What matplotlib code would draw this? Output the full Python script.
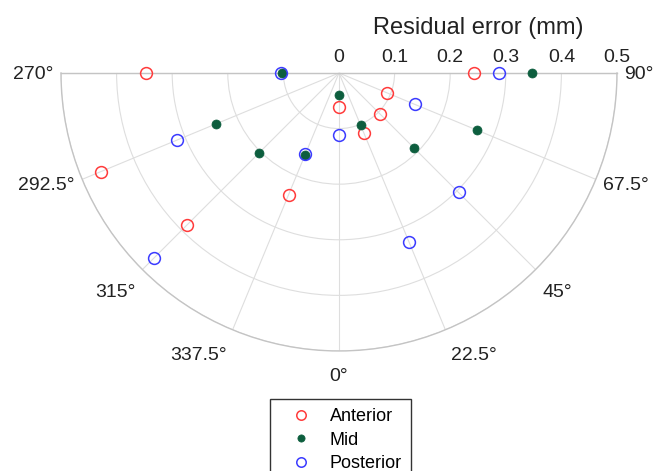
import numpy as np
import matplotlib.pyplot as plt

plt.rcParams['font.family'] = ['Liberation Sans', 'DejaVu Sans']

# angles in degrees (as labelled on the chart)
angles = [270, 292.5, 315, 337.5, 0, 22.5, 45, 67.5, 90]

# residual error (mm) per angle
anterior = [0.347, 0.464, 0.387, 0.237, 0.061, 0.117, 0.104, 0.093, 0.242]
mid = [0.103, 0.239, 0.204, 0.160, 0.039, 0.102, 0.190, 0.268, 0.348]
posterior = [0.105, 0.315, 0.471, 0.158, 0.112, 0.329, 0.304, 0.148, 0.287]

r_ticks = [0, 0.1, 0.2, 0.3, 0.4, 0.5]
theta_ticks = [270, 292.5, 315, 337.5, 0, 22.5, 45, 67.5, 90]


def to_rad(a):
    a = np.asarray(a, dtype=float)
    a = np.where(a > 180, a - 360, a)
    return np.deg2rad(a)


fig = plt.figure(figsize=(6.55, 4.71), dpi=100)
# the half-polar wedge sits in a square box; size it so the half disc lands where wanted
ax = fig.add_axes([0.0931, -0.0403, 0.8489, 1.1805], projection='polar')
ax.set_theta_zero_location('S')
ax.set_theta_direction(1)
ax.set_thetalim(-np.pi / 2, np.pi / 2)
ax.set_ylim(0, 0.5)

th = to_rad(angles)
ax.plot(th, anterior, ls='none', marker='o', ms=8.5, mfc='none', mec='#ff3b3b',
        mew=1.1, label='Anterior', clip_on=False, zorder=3)
ax.plot(th, mid, ls='none', marker='o', ms=6.5, mfc='#0d5e3e', mec='#0d5e3e',
        mew=0.5, label='Mid', clip_on=False, zorder=3)
ax.plot(th, posterior, ls='none', marker='o', ms=8.5, mfc='none', mec='#3b3bff',
        mew=1.1, label='Posterior', clip_on=False, zorder=3)

# grid
ax.set_xticks(to_rad(theta_ticks))
ax.set_xticklabels([])
ax.set_yticks(r_ticks[1:])
ax.set_yticklabels([])
ax.grid(color='#dedede', lw=0.8)
for s in ax.spines.values():
    s.set_color('#c4c4c4')
    s.set_linewidth(1.0)

# angle labels around the rim (matlab-like placement: side aligned, pushed down)
for t in theta_ticks:
    a = float(to_rad(t))
    c, s = np.cos(a), np.sin(a)
    dy = 0.72 * (2 + 23.5 * np.clip((c - 0.3) / 0.45, 0, 1))
    dx = 0.72 * (4 + 3.5 * abs(s))
    if abs(s) < 1e-6:
        ha, dx = 'center', 0
    elif s > 0:
        ha = 'left'
    else:
        ha, dx = 'right', -dx
    ax.annotate(f'{t:g}°', xy=(a, 0.5), xytext=(dx, -dy), textcoords='offset points',
                ha=ha, va='center', fontsize=14, color='#222222',
                annotation_clip=False)

# radial labels along the top edge
for r in r_ticks:
    ax.annotate(f'{r:g}', xy=(np.pi / 2, r), xytext=(0, 5), textcoords='offset points',
                ha='center', va='bottom', fontsize=14, color='#222222',
                annotation_clip=False)
ax.annotate('Residual error (mm)', xy=(np.pi / 2, 0.25), xytext=(0, 24.5),
            textcoords='offset points', ha='center', va='bottom', fontsize=17,
            color='#222222', annotation_clip=False)

leg = fig.legend(loc='upper center', bbox_to_anchor=(0.5196, 0.1522), fontsize=13,
                 frameon=True, fancybox=False, edgecolor='black', borderaxespad=0,
                 labelspacing=0.35, handlelength=2.5, handletextpad=0.33,
                 borderpad=0.5, markerscale=0.8)
leg.get_frame().set_linewidth(1.0)

fig.savefig('out.png', dpi=100)
